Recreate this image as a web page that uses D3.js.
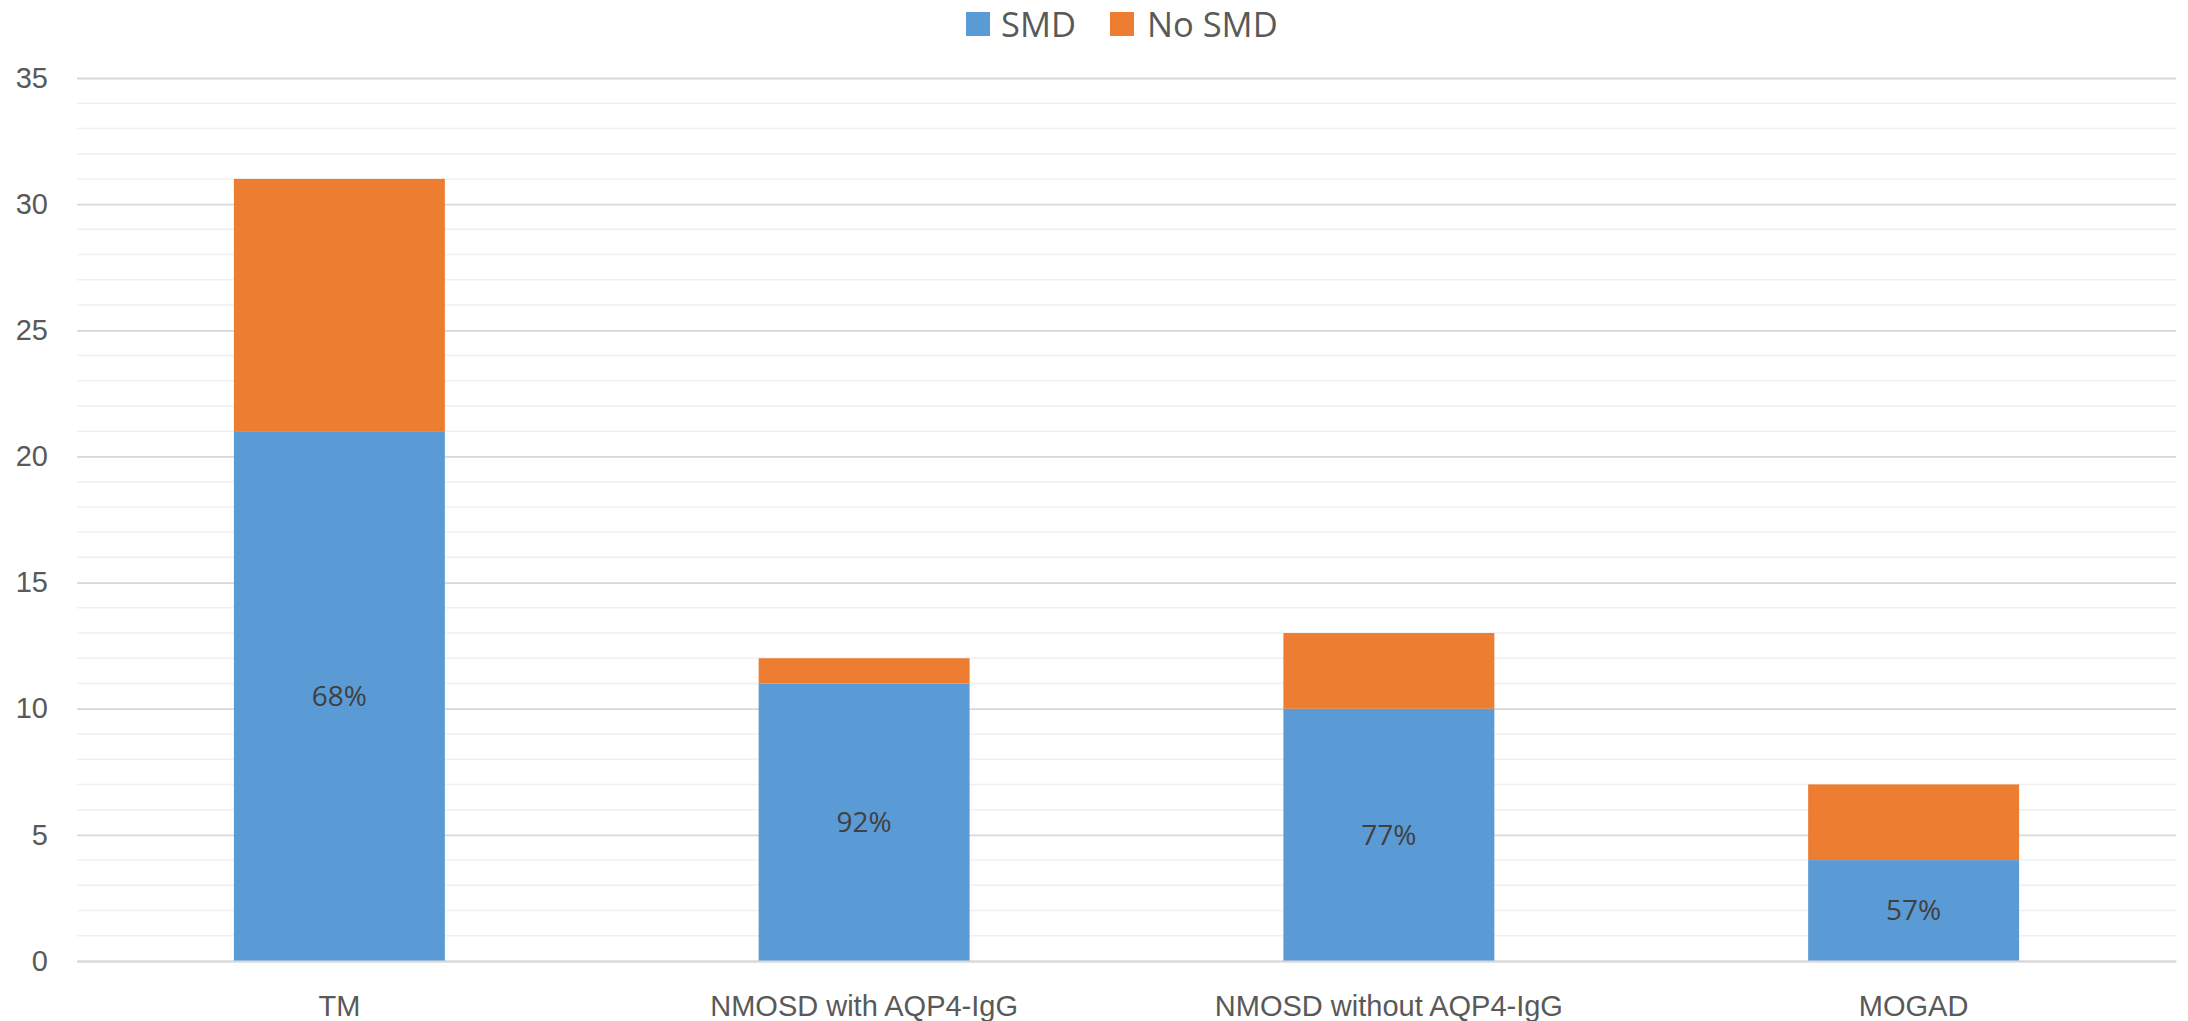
<!DOCTYPE html>
<html>
<head>
<meta charset="utf-8">
<script src="https://cdn.jsdelivr.net/npm/d3@7"></script>
<style>
  html, body { margin: 0; padding: 0; background: #fff; }
  svg { display: block; font-family: "Open Sans", "Noto Sans", sans-serif; }
</style>
</head>
<body>
<svg id="chart" width="2188" height="1021"></svg>
<script>
// Patient groups and counts with / without SMD
const categories = ["TM", "NMOSD with AQP4-IgG", "NMOSD without AQP4-IgG", "MOGAD"];
const smd = [21, 11, 10, 4];
const noSmd = [10, 1, 3, 3];
const pctLabels = ["68%", "92%", "77%", "57%"];
const seriesNames = ["SMD", "No SMD"];
const yTicks = [0, 5, 10, 15, 20, 25, 30, 35];

const colors = { "SMD": "#5B9BD5", "No SMD": "#ED7D31" };

const W = 2188, H = 1021;
const margin = { left: 77, right: 12, top: 78, bottom: 60 };
const svg = d3.select("#chart");

const x = d3.scaleBand()
  .domain(categories)
  .range([margin.left, W - margin.right])
  .paddingInner(0.598)
  .paddingOuter(0.299);

const y = d3.scaleLinear()
  .domain([0, 35])
  .range([H - margin.bottom, margin.top]);

// Minor gridlines every unit
const minor = d3.range(0, 36).filter(v => v % 5 !== 0);
svg.append("g").selectAll("line").data(minor).join("line")
  .attr("x1", margin.left).attr("x2", W - margin.right)
  .attr("y1", d => y(d)).attr("y2", d => y(d))
  .attr("stroke", "#f0f0f0").attr("stroke-width", 1.5);

// Major gridlines and tick labels via axis
const yAxis = d3.axisLeft(y)
  .tickValues(yTicks)
  .tickSize(-(W - margin.right - margin.left))
  .tickPadding(29);
const gy = svg.append("g")
  .attr("transform", `translate(${margin.left},0)`)
  .call(yAxis);
gy.select(".domain").remove();
gy.selectAll(".tick line").attr("stroke", "#d9d9d9").attr("stroke-width", 1.8);
gy.selectAll(".tick text")
  .attr("fill", "#595959")
  .style("font-size", "29px");

// Stacked bars
const rows = categories.map((c, i) => ({ cat: c, "SMD": smd[i], "No SMD": noSmd[i] }));
const stack = d3.stack().keys(seriesNames)(rows);

svg.append("g").selectAll("g").data(stack).join("g")
  .attr("fill", d => colors[d.key])
  .selectAll("rect").data(d => d).join("rect")
  .attr("x", d => x(d.data.cat))
  .attr("width", x.bandwidth())
  .attr("y", d => y(d[1]))
  .attr("height", d => y(d[0]) - y(d[1]));

// Percentage labels centred in the SMD segment
svg.append("g").selectAll("text").data(categories).join("text")
  .attr("x", d => x(d) + x.bandwidth() / 2)
  .attr("y", (d, i) => y(smd[i] / 2))
  .attr("dy", "0.35em")
  .attr("text-anchor", "middle")
  .attr("fill", "#404040")
  .style("font-size", "28px")
  .text((d, i) => pctLabels[i]);

// Category axis
const xAxis = d3.axisBottom(x).tickSize(0).tickPadding(34);
const gx = svg.append("g")
  .attr("transform", `translate(0,${y(0)})`)
  .call(xAxis);
gx.select(".domain").attr("stroke", "#d9d9d9").attr("stroke-width", 1.8);
gx.selectAll(".tick text")
  .attr("fill", "#595959")
  .style("font-size", "29px");

// Legend
const legendItems = [
  { name: "SMD", sx: 966, tx: 1001 },
  { name: "No SMD", sx: 1110, tx: 1147 }
];
const legendBaseline = 37;
const lg = svg.append("g");
legendItems.forEach(it => {
  lg.append("rect")
    .attr("x", it.sx).attr("y", legendBaseline - 25)
    .attr("width", 24).attr("height", 24)
    .attr("fill", colors[it.name]);
  lg.append("text")
    .attr("x", it.tx).attr("y", legendBaseline)
    .attr("fill", "#595959")
    .style("font-size", "34.5px")
    .text(it.name);
});
</script>
</body>
</html>
